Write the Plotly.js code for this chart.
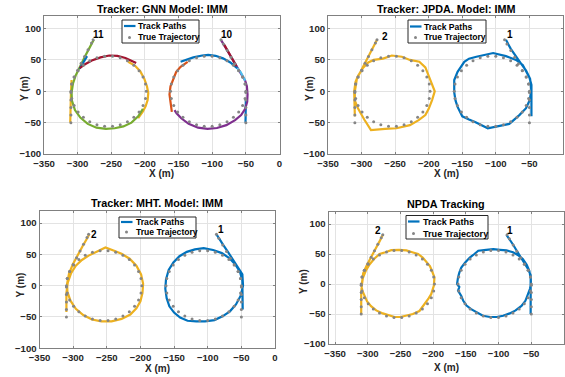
<!DOCTYPE html>
<html><head><meta charset="utf-8">
<script src="https://cdn.plot.ly/plotly-3.0.1.min.js"></script>
<style>html,body{margin:0;padding:0;background:#fff;overflow:hidden}#chart{width:565px;height:377px}</style>
</head><body><div id="chart"></div>
<script>
// ---------- DATA ----------
// True trajectory, left target (track 2 / 11)
const truthLeftX = [-310,-310,-310,-310,-310,-308.8,-305.2,-299.3,-291.5,-282,-271.3,-259.9,-248.1,-236.7,-226,-216.5,-208.7,-202.8,-199.2,-198,-199.2,-202.8,-208.7,-216.5,-226,-236.7,-248.1,-259.9,-271.3,-282,-291.5,-299.3,-305.2,-308.8,-310,-308.8,-305.2,-300,-294.9,-289.7,-284.6,-279.4,-277];
const truthLeftY = [-50,-38,-26,-14,-2,11.6,22.8,32.9,41.6,48.5,53.3,55.7,55.7,53.3,48.5,41.6,32.9,22.8,11.6,0,-11.6,-22.8,-32.9,-41.6,-48.5,-53.3,-55.7,-55.7,-53.3,-48.5,-41.6,-32.9,-22.8,-11.6,0,11.6,22.8,33.6,44.5,55.3,66.1,77,82];
// True trajectory, right target (track 1 / 10)
const truthRightX = [-50,-50,-50,-50,-50,-51.2,-54.8,-60.7,-68.5,-78,-88.7,-100.1,-111.9,-123.3,-134,-143.5,-151.3,-157.2,-160.8,-162,-160.8,-157.2,-151.3,-143.5,-134,-123.3,-111.9,-100.1,-88.7,-78,-68.5,-60.7,-54.8,-51.2,-50,-51.2,-54.8,-60.5,-66.3,-72,-77.7,-83.5,-87];
const truthRightY = [-50,-38,-26,-14,-2,11.6,22.8,32.9,41.6,48.5,53.3,55.7,55.7,53.3,48.5,41.6,32.9,22.8,11.6,0,-11.6,-22.8,-32.9,-41.6,-48.5,-53.3,-55.7,-55.7,-53.3,-48.5,-41.6,-32.9,-22.8,-11.6,0,11.6,22.8,33.3,43.9,54.4,65,75.5,82];

// GNN tracks
const gnnYellowAX = [-311,-311,-310.5,-310,-309.5,-309];
const gnnYellowAY = [-50,-35,-20,-5,8,18];
const gnnYellowBX = [-225,-215,-207,-201,-197,-195,-196,-199,-203,-207,-210];
const gnnYellowBY = [47,41,32,20,8,-3,-14,-24,-32,-38,-43];
const gnnMaroonAX = [-297,-289,-279,-266,-253,-241,-229,-221,-213];
const gnnMaroonAY = [37,43,49,54,57,56.5,53,49,45];
const gnnGreenX = [-203,-210,-220,-232,-245,-258,-272,-285,-296,-304,-308.5,-309,-307,-303,-298,-293,-288,-283,-278,-276];
const gnnGreenY = [-28,-40,-50,-56,-59,-60,-58,-52,-42,-30,-15,-2,12,25,36,48,58,68,77,82];
const gnnBlueAX = [-297,-294,-290,-286];
const gnnBlueAY = [36,42,49,56];
const gnnBlueBX = [-50.5,-50.5,-50,-50];
const gnnBlueBY = [-50,-38,-25,-12];
const gnnLightBlueX = [-51,-54,-58,-63];
const gnnLightBlueY = [17,24,31,37];
const gnnBlueCX = [-63,-73,-84,-95,-106,-115,-128,-140,-147];
const gnnBlueCY = [37,46,52.5,56.5,58,57,54,50,47];
const gnnOrangeX = [-136.5,-141,-147,-153.5,-158,-162,-163.5,-162,-160];
const gnnOrangeY = [47,44,39,31,20,8,-5,-20,-33];
const gnnPurpleX = [-156,-153,-146,-135,-121,-107,-93,-79,-66,-57,-51,-48,-47.5,-48.5,-51,-55,-60,-66,-72,-78,-84,-87];
const gnnPurpleY = [-30,-35,-43,-52,-58,-60,-58.5,-54,-46,-38,-28,-17,-5,8,17,25,33,44,55,65,76,82];
const gnnMaroonBX = [-82,-77,-72,-67,-64];
const gnnMaroonBY = [74,64,55,46,40];

// JPDA tracks
const jpdaLeftX = [-310,-311,-311,-309,-305,-298,-290,-282,-268,-255,-240,-228,-214,-205,-200,-194,-191,-195,-200,-205,-215,-228,-248,-265,-286,-296,-305,-310,-310,-307,-300,-290,-284,-277];
const jpdaLeftY = [-40,-20,0,15,25,37,46,50,52,57,55,50,47,38,25,10,0,-14,-28,-38,-46,-54,-59,-60,-62,-45,-28,-15,0,20,35,55,68,82];
const jpdaRightX = [-47,-47,-46,-47,-50,-60,-70,-85,-104,-118,-129,-140,-147,-157,-162,-162,-160,-157,-150,-140,-131,-112,-100,-80,-65,-55,-50,-47,-49,-55,-63,-70,-78,-85];
const jpdaRightY = [-40,-20,-5,10,22,42,50,56,61,58,55,52,47,31,18,-2,-15,-25,-40,-45,-49,-59,-56,-52,-38,-27,-15,0,20,33,45,56,68,82];

// MHT tracks
const mhtLeftX = [-310,-310,-310,-308,-303,-296,-287,-277,-265,-252,-240,-228,-216,-206,-199,-196,-197,-200,-206,-215,-228,-243,-258,-272,-285,-296,-304,-308.5,-309,-306,-300,-293,-286,-280,-276];
const mhtLeftY = [-42,-28,-12,5,20,32,41,48,54,61,56,51,43,32,18,3,-12,-25,-36,-46,-53,-57,-57,-54,-47,-37,-24,-10,3,20,35,50,63,74,82];
const mhtRightX = [-48,-48,-47.5,-48.5,-52,-59,-68,-79,-92,-106,-119,-131,-142,-151,-158,-162,-163,-161,-157,-150,-141,-130,-117,-104,-90,-78,-67,-58,-51,-47.5,-48.5,-56,-63.5,-70,-77,-83,-87];
const mhtRightY = [-38,-25,-10,8,22,34,44,52,57,60,58,54,47,37,25,10,-5,-20,-33,-43,-51,-56,-57,-57,-55,-49,-41,-30,-16,0,18,31,43,54,65,75,82];

// NPDA tracks
const npdaLeftX = [-310,-310,-310.5,-310,-309,-307.5,-303,-297,-290,-282,-273,-264,-252,-241,-232,-223,-216,-210.5,-205,-203,-198,-199,-200.5,-203,-207,-212,-221,-231,-241,-250,-259,-268,-277,-287,-295,-301,-305,-308,-309.5,-307,-302,-297,-292,-287,-282,-277];
const npdaLeftY = [-50,-38,-26,-14,-2,10,22,33,42,50,53,56.5,57,56,53,50,44,36,30,25,11,-3,-10,-17,-24,-31,-45,-50,-53,-55,-55,-52,-49,-44,-37,-29,-20,-12,-4,18,30,41,51,61,71,82];
const npdaRightX = [-51,-51,-50.5,-50,-50,-51,-53,-57,-63,-70,-78,-88,-98,-108,-119,-131,-137,-144,-151,-157,-160,-162,-163.5,-160,-162,-157,-154,-149,-142,-133,-124,-113,-103,-93,-83,-74,-65,-59,-55,-52,-50.5,-51,-55,-61,-66.5,-72,-77.5,-83,-88];
const npdaRightY = [-50,-38,-26,-14,-2,10,22,32,41.5,48,53,56,57,58,57,55.5,50,44,36,27.5,19,11,0,-5,-11,-20,-28,-36,-42,-48,-53,-55,-55,-53,-49,-44,-36.5,-28,-17,-8,0,15,25,35,45,55,65,73,82];

// Text
const panelTitles = ['Tracker: GNN Model: IMM', 'Tracker: JPDA. Model: IMM', 'Tracker: MHT. Model: IMM', 'NPDA Tracking'];
const legendLabels = ['Track Paths', 'True Trajectory'];
const xTitle = 'X (m)';
const yTitle = 'Y (m)';
const trackLabels = [
  [{t:'11', x:-268.5, y:90}, {t:'10', x:-78, y:90}],
  [{t:'2', x:-265.5, y:88}, {t:'1', x:-78.5, y:91}],
  [{t:'2', x:-268.5, y:81.5}, {t:'1', x:-80.5, y:89}],
  [{t:'2', x:-284, y:90}, {t:'1', x:-83, y:90}]
];

// ---------- STYLE / LAYOUT ----------
const W = 565, H = 377;
const px = v => v / W;
const py = v => 1 - v / H;
const C = {blue:'#0072BD', orange:'#D95319', yellow:'#EDB120', purple:'#7E2F8E', green:'#77AC30', lblue:'#4DBEEE', maroon:'#A2142F'};
const FONT = 'Liberation Sans, Arial, Helvetica, sans-serif';

const panelTracks = [
  [[gnnYellowAX,gnnYellowAY,C.yellow],[gnnYellowBX,gnnYellowBY,C.yellow],[gnnGreenX,gnnGreenY,C.green],[gnnBlueAX,gnnBlueAY,C.blue],[gnnMaroonAX,gnnMaroonAY,C.maroon],
   [gnnBlueBX,gnnBlueBY,C.blue],[gnnPurpleX,gnnPurpleY,C.purple],[gnnLightBlueX,gnnLightBlueY,C.lblue],[gnnBlueCX,gnnBlueCY,C.blue],[gnnOrangeX,gnnOrangeY,C.orange],[gnnMaroonBX,gnnMaroonBY,C.maroon]],
  [[jpdaLeftX,jpdaLeftY,C.yellow],[jpdaRightX,jpdaRightY,C.blue]],
  [[mhtLeftX,mhtLeftY,C.yellow],[mhtRightX,mhtRightY,C.blue]],
  [[npdaLeftX,npdaLeftY,C.yellow],[npdaRightX,npdaRightY,C.blue]]
];

const boxes = [
  {x:[44,279.5], y:[16,154], xr:[-350,0], title:[162,9], xl:[161.5,173.3], yl:[25,89],
   leg:{l:122,t:20,r:199,b:43,sl:124,sr:135.5,sy:26,dx:129.5,dy:37.5,tx:136,fs:8.6}},
  {x:[328,563], y:[16,154], xr:[-350,0], title:[446,9], xl:[446.5,173.3], yl:[310,89],
   leg:{l:408,t:20,r:486,b:43,sl:410,sr:421.5,sy:26.5,dx:415.5,dy:37.5,tx:422,fs:8.6}},
  {x:[39.5,275], y:[210.5,348.3], xr:[-350,0], title:[157,203], xl:[157.5,368], yl:[20.7,284.7],
   leg:{l:119,t:217,r:196,b:238,sl:121,sr:132.5,sy:222,dx:126.5,dy:232,tx:133.5,fs:8.6}},
  {x:[328.5,564], y:[212,344], xr:[-360,0], title:[446,204], xl:[446,367], yl:[303.7,281.3],
   leg:{l:406,t:215.5,r:488,b:239,sl:408,sr:419.5,sy:221.5,dx:413.5,dy:233.5,tx:420.5,fs:9.1}}
];

const traces = [];
const layout = {
  width: W, height: H, margin:{l:0,r:0,t:0,b:0}, showlegend:false,
  paper_bgcolor:'#fff', plot_bgcolor:'#fff',
  font:{family:FONT, color:'#262626'},
  shapes:[], annotations:[]
};

boxes.forEach((b, i) => {
  const n = i === 0 ? '' : String(i + 1);
  const xa = 'x' + n, ya = 'y' + n;
  panelTracks[i].forEach(tr => {
    traces.push({type:'scatter', mode:'lines', x:tr[0], y:tr[1], xaxis:xa, yaxis:ya,
      line:{color:tr[2], width:2.2}, hoverinfo:'skip'});
  });
  [[truthLeftX,truthLeftY],[truthRightX,truthRightY]].forEach(t => {
    traces.push({type:'scatter', mode:'markers', x:t[0], y:t[1], xaxis:xa, yaxis:ya,
      marker:{color:'#858585', size:3}, hoverinfo:'skip'});
  });
  const axCommon = {
    showgrid:true, gridcolor:'#e3e3e3', gridwidth:1, zeroline:false,
    showline:true, linecolor:'#808080', linewidth:1, mirror:'ticks',
    ticks:'inside', ticklen:2, tickcolor:'#808080',
    tickfont:{family:FONT, size:9.6, color:'#262626', weight:700},
    tickmode:'linear', tick0:0, dtick:50, fixedrange:true
  };
  layout['xaxis' + n] = Object.assign({}, axCommon, {
    domain:[px(b.x[0]), px(b.x[1])], range:b.xr, anchor:ya
  });
  layout['yaxis' + n] = Object.assign({}, axCommon, {
    domain:[py(b.y[1]), py(b.y[0])], range:[-100,120], anchor:xa
  });
  layout.annotations.push({text:panelTitles[i], xref:'paper', yref:'paper', x:px(b.title[0]), y:py(b.title[1]),
    xanchor:'center', yanchor:'middle', showarrow:false, font:{family:FONT, size:10.8, color:'#000', weight:700}});
  layout.annotations.push({text:xTitle, xref:'paper', yref:'paper', x:px(b.xl[0]), y:py(b.xl[1]),
    xanchor:'center', yanchor:'middle', showarrow:false, font:{family:FONT, size:10, color:'#262626', weight:700}});
  layout.annotations.push({text:yTitle, xref:'paper', yref:'paper', x:px(b.yl[0]), y:py(b.yl[1]), textangle:-90,
    xanchor:'center', yanchor:'middle', showarrow:false, font:{family:FONT, size:10, color:'#262626', weight:700}});
  trackLabels[i].forEach(l => {
    layout.annotations.push({text:l.t, xref:xa, yref:ya, x:l.x, y:l.y, xanchor:'center', yanchor:'middle',
      showarrow:false, font:{family:FONT, size:10, color:'#000', weight:700}});
  });
  const g = b.leg;
  layout.shapes.push({type:'rect', xref:'paper', yref:'paper', x0:px(g.l), x1:px(g.r), y0:py(g.b), y1:py(g.t),
    line:{color:'#262626', width:1}, fillcolor:'#fff', layer:'above'});
  layout.shapes.push({type:'line', xref:'paper', yref:'paper', x0:px(g.sl), x1:px(g.sr), y0:py(g.sy), y1:py(g.sy),
    line:{color:C.blue, width:2.2}, layer:'above'});
  layout.shapes.push({type:'circle', xref:'paper', yref:'paper', x0:px(g.dx-1.5), x1:px(g.dx+1.5), y0:py(g.dy+1.5), y1:py(g.dy-1.5),
    line:{width:0}, fillcolor:'#858585', layer:'above'});
  layout.annotations.push({text:legendLabels[0], xref:'paper', yref:'paper', x:px(g.tx), y:py(g.sy), xanchor:'left', yanchor:'middle',
    showarrow:false, font:{family:FONT, size:g.fs, color:'#000', weight:700}});
  layout.annotations.push({text:legendLabels[1], xref:'paper', yref:'paper', x:px(g.tx), y:py(g.dy), xanchor:'left', yanchor:'middle',
    showarrow:false, font:{family:FONT, size:g.fs, color:'#000', weight:700}});
});

Plotly.newPlot('chart', traces, layout, {staticPlot:true, displayModeBar:false});
</script>
</body></html>
